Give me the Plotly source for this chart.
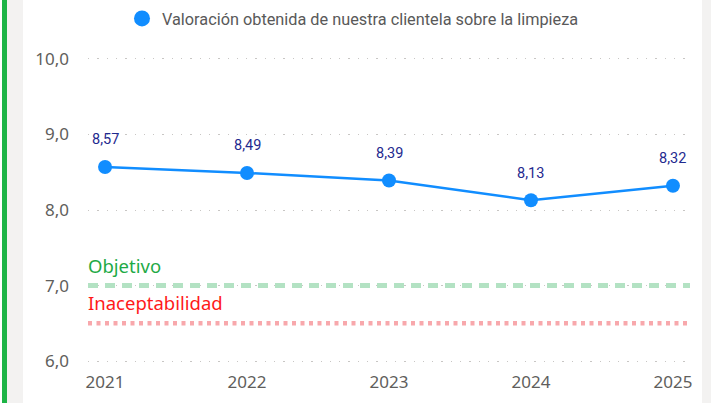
import plotly.graph_objects as go

years = [2021, 2022, 2023, 2024, 2025]
valoracion = [8.57, 8.49, 8.39, 8.13, 8.32]
series_name = "Valoración obtenida de nuestra clientela sobre la limpieza"
objetivo_value = 7.0
objetivo_label = "Objetivo"
inaceptable_value = 6.5
inaceptable_label = "Inaceptabilidad"
y_ticks = [6, 7, 8, 9, 10]

W, H = 711, 403
PAD = 0.025          # small range padding so edge gridlines are drawn
UNIT = 75.5          # px per y unit
ML, MR = 88, 21
MT = 59 - PAD * UNIT
MB = 42 - PAD * UNIT
PW = W - ML - MR
PH = H - MT - MB


def px_x(p):
    return (p - ML) / PW


Y0 = -MB / PH
Y1 = 1 + MT / PH

fig = go.Figure()

fig.add_trace(go.Scatter(
    x=years, y=valoracion, mode="lines+markers", showlegend=False,
    line=dict(color="#118DFF", width=2.5),
    marker=dict(color="#118DFF", size=14),
    hoverinfo="skip",
))
# legend entry (marker only)
fig.add_trace(go.Scatter(
    x=[None], y=[None], mode="markers", name=series_name,
    marker=dict(color="#118DFF", size=16), showlegend=True,
))

for x, v in zip(years, valoracion):
    fig.add_annotation(
        x=x, y=v, text=f"{v:.2f}".replace(".", ","), showarrow=False,
        yshift=27, yanchor="middle", xanchor="center",
        font=dict(family="Roboto", size=14.5, color="#1F2A8F"),
    )

shapes = [
    dict(type="rect", xref="paper", yref="paper", x0=px_x(2), x1=px_x(7), y0=Y0, y1=Y1,
         fillcolor="#1DB446", line=dict(width=0), layer="below"),
    dict(type="rect", xref="paper", yref="paper", x0=px_x(7), x1=px_x(23), y0=Y0, y1=Y1,
         fillcolor="#F3F2F1", line=dict(width=0), layer="below"),
    dict(type="rect", xref="paper", yref="paper", x0=px_x(702), x1=px_x(711), y0=Y0, y1=Y1,
         fillcolor="#F3F2F1", line=dict(width=0), layer="below"),
    dict(type="line", xref="paper", yref="y", x0=0, x1=1, y0=objetivo_value, y1=objetivo_value,
         line=dict(color="#B3E2C3", width=5, dash="10px,7px"), layer="above"),
    dict(type="line", xref="paper", yref="y", x0=0, x1=1, y0=inaceptable_value, y1=inaceptable_value,
         line=dict(color="#F8A8AC", width=4.5, dash="4px,4.5px"), layer="above"),
]
fig.update_layout(shapes=shapes)

fig.add_annotation(xref="paper", yref="y", x=0, y=objetivo_value, text=objetivo_label,
                   showarrow=False, xanchor="left", yanchor="middle", yshift=20, xshift=-2,
                   font=dict(family="Noto Sans", size=18.5, color="#1EAA46"))
fig.add_annotation(xref="paper", yref="y", x=0, y=inaceptable_value, text=inaceptable_label,
                   showarrow=False, xanchor="left", yanchor="middle", yshift=21, xshift=-2,
                   font=dict(family="Noto Sans", size=18.5, color="#FF1A1A"))

fig.update_layout(
    width=W, height=H,
    margin=dict(l=ML, r=MR, t=MT, b=MB, autoexpand=False),
    paper_bgcolor="#ffffff", plot_bgcolor="#ffffff",
    separators=",.",
    showlegend=True,
    legend=dict(orientation="h", x=px_x(122), xanchor="left", y=(H - MB - 19) / PH,
                yanchor="middle",
                font=dict(family="Roboto", size=16.3, color="#595959"),
                bgcolor="rgba(0,0,0,0)", itemclick=False),
    xaxis=dict(range=[2020.88, 2025.12], tickvals=years, ticktext=[str(y) for y in years],
               showgrid=False, zeroline=False, showline=False, ticks="",
               ticklabelstandoff=7,
               tickfont=dict(family="Noto Sans", size=17, color="#605E5C")),
    yaxis=dict(range=[6 - PAD, 10 + PAD], tickvals=y_ticks, tickformat=".1f",
               showgrid=True, gridcolor="#C8C6C4", gridwidth=1.3, griddash="1.3px,8px",
               zeroline=False, showline=False, ticks="",
               ticklabelstandoff=18,
               tickfont=dict(family="Noto Sans", size=17, color="#605E5C")),
)

fig.write_html("out.html", config={"displayModeBar": False},
               post_script="document.body.style.margin='0';")
